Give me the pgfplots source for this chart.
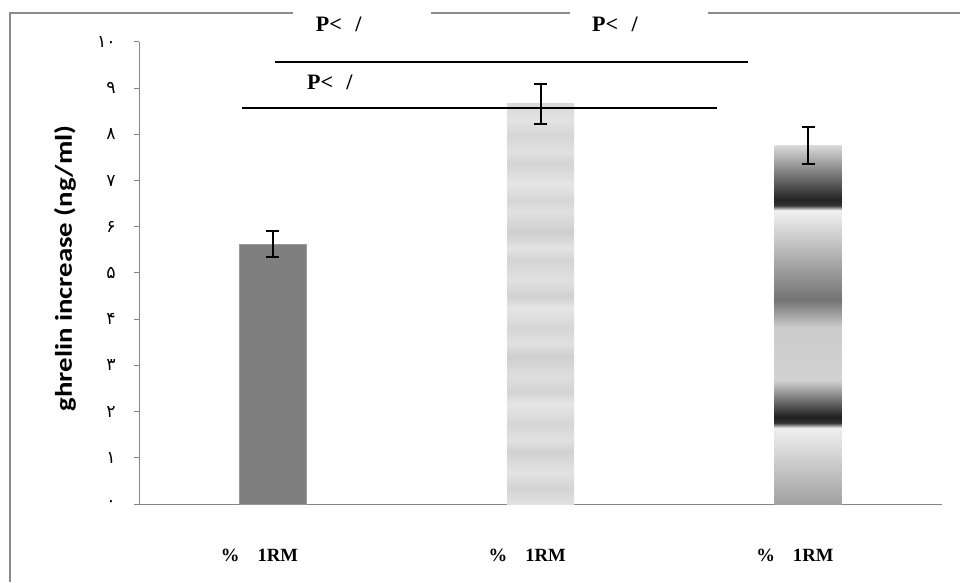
\documentclass[border=0pt]{standalone}
\usepackage{fontspec}
\setmainfont{Liberation Serif}
\newfontfamily\calibri{Carlito}
\newfontfamily\arabicfont[Script=Arabic]{DejaVu Sans}
\usepackage{pgfplots}
\pgfplotsset{compat=1.18}

\definecolor{axisgray}{HTML}{868686}
\definecolor{framegray}{HTML}{8C8C8C}
\definecolor{barone}{HTML}{7F7F7F}

\pgfdeclareverticalshading{chrome}{100bp}{%
 color(0bp)=(black!37); color(25bp)=(black!37);
 color(35.6bp)=(black!6); color(36.3bp)=(black!80); color(37.1bp)=(black!88);
 color(42.2bp)=(black!18); color(49.6bp)=(black!20); color(53.4bp)=(black!55);
 color(65.9bp)=(black!5); color(66.6bp)=(black!80); color(67.4bp)=(black!86);
 color(75bp)=(black!14); color(100bp)=(black!14)}

\pgfdeclareverticalshading{marble}{100bp}{%
 color(0bp)=(black!12); color(25bp)=(black!12);
 color(27bp)=(black!17); color(29bp)=(black!11); color(31.5bp)=(black!18);
 color(33bp)=(black!12); color(35bp)=(black!16); color(37.5bp)=(black!10);
 color(39bp)=(black!17); color(41bp)=(black!13); color(43.5bp)=(black!19);
 color(45bp)=(black!12); color(47bp)=(black!16); color(49.5bp)=(black!10);
 color(51bp)=(black!18); color(53bp)=(black!12); color(55.5bp)=(black!17);
 color(57bp)=(black!11); color(59bp)=(black!19); color(61.5bp)=(black!12);
 color(63bp)=(black!16); color(65bp)=(black!10); color(67.5bp)=(black!17);
 color(69bp)=(black!12); color(71bp)=(black!16); color(73bp)=(black!11);
 color(75bp)=(black!15); color(100bp)=(black!15)}

\begin{document}
\begin{tikzpicture}
\path[use as bounding box] (0,0) rectangle (720pt,436.5pt);
\begin{axis}[
  at={(104.25pt,58.5pt)}, anchor=south west,
  scale only axis, width=602.25pt, height=346.5pt,
  xmin=0, xmax=3, ymin=0, ymax=10,
  axis x line*=bottom, axis y line*=left,
  axis line style={draw=axisgray, line width=0.75pt},
  xtick={0.5,1.5,2.5},
  xticklabels={{\%\hspace{13.5pt}1RM},{\%\hspace{13.5pt}1RM},{\%\hspace{13.5pt}1RM}},
  major x tick style={draw=none},
  ytick={0,1,2,3,4,5,6,7,8,9,10},
  yticklabels={۰,۱,۲,۳,۴,۵,۶,۷,۸,۹,۱۰},
  tick align=outside, major tick length=3.75pt,
  y tick style={draw=axisgray, line width=0.75pt},
  yticklabel style={font=\arabicfont\fontsize{13pt}{15pt}\selectfont, anchor=east, inner sep=0pt, xshift=-13.5pt},
  xticklabel style={font=\bfseries\fontsize{14pt}{16pt}\selectfont, anchor=center, inner sep=0pt, xshift=-10pt, yshift=-34.5pt},
  ylabel={\scalebox{1.2}[1]{ghrelin increase (ng/ml)}},
  ylabel style={font=\calibri\bfseries\fontsize{18pt}{20pt}\selectfont, at={(axis description cs:-0.0922,0.51)}, anchor=center, inner sep=0pt},
  clip=false,
]
\addplot[ybar, bar width=50.25pt, bar shift=0pt, fill=barone, draw=black!40, line width=0.5pt] coordinates {(0.5,5.63)};
\addplot[ybar, bar width=50.25pt, bar shift=0pt, draw=none, shade, shading=marble] coordinates {(1.5,8.66)};
\addplot[ybar, bar width=50.25pt, bar shift=0pt, draw=none, shade, shading=chrome] coordinates {(2.5,7.77)};
\addplot[forget plot, mark=none, draw=none,
  error bars/.cd, y dir=both, y explicit,
  error bar style={draw=black, line width=1.5pt},
  error mark options={rotate=90, mark size=4.9pt, line width=1.5pt, draw=black}]
  coordinates {(0.5,5.63) +- (0,0.28) (1.5,8.66) +- (0,0.43) (2.5,7.77) +- (0,0.40)};
\draw[black, line width=1.4pt] (axis cs:0.508,9.567) -- (axis cs:2.275,9.567);
\draw[black, line width=1.4pt] (axis cs:0.385,8.571) -- (axis cs:2.159,8.571);
\node[font=\bfseries\fontsize{16.5pt}{18pt}\selectfont, inner sep=0pt] at (axis cs:0.746,10.39) {P<\hspace{10pt}/};
\node[font=\bfseries\fontsize{16.5pt}{18pt}\selectfont, inner sep=0pt] at (axis cs:1.778,10.39) {P<\hspace{10pt}/};
\node[font=\bfseries\fontsize{16.5pt}{18pt}\selectfont, inner sep=0pt] at (axis cs:0.713,9.134) {P<\hspace{10pt}/};
\end{axis}
\draw[framegray, line width=2pt] (7.5pt,0) -- (7.5pt,426.75pt) -- (219.75pt,426.75pt);
\draw[framegray, line width=2pt] (323.25pt,426.75pt) -- (427.5pt,426.75pt);
\draw[framegray, line width=2pt] (531pt,426.75pt) -- (720pt,426.75pt);
\end{tikzpicture}
\end{document}
